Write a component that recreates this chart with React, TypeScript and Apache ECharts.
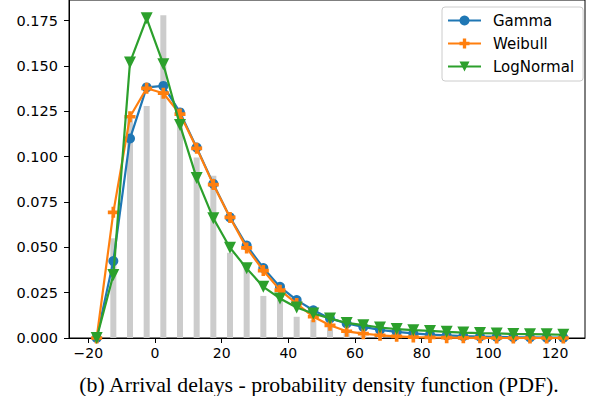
import React, { useEffect, useRef } from "react";
import * as echarts from "echarts";

const binCenters = [
  -17.5, -12.5, -7.5, -2.5, 2.5, 7.5, 12.5, 17.5, 22.5, 27.5, 32.5, 37.5, 42.5, 47.5, 52.5,
  57.5, 62.5, 67.5, 72.5, 77.5, 82.5, 87.5, 92.5, 97.5, 102.5, 107.5, 112.5, 117.5, 122.5,
];
const histValues = [
  0, 0.055, 0.121, 0.128, 0.178, 0.118, 0.0995, 0.0895, 0.047, 0.041, 0.0232, 0.021, 0.0117, 0.01,
  0.0065, 0.0028, 0.0012, 0.0006, 0.0004, 0.0002, 0.0001, 0.0001, 0, 0, 0, 0, 0, 0, 0,
];
const gammaValues = [
  0, 0.0424, 0.11, 0.1382, 0.139, 0.1244, 0.105, 0.085, 0.0665, 0.051, 0.0386, 0.0282, 0.0209,
  0.0153, 0.0108, 0.008, 0.0061, 0.0045, 0.0034, 0.0025, 0.0019, 0.0014, 0.001, 0.0008, 0.0006,
  0.0004, 0.0003, 0.0002, 0.0002,
];
const weibullValues = [
  0, 0.0693, 0.122, 0.1377, 0.135, 0.1235, 0.1046, 0.0846, 0.0665, 0.0497, 0.0372, 0.0264, 0.019,
  0.0117, 0.007, 0.0037, 0.0024, 0.0015, 0.0009, 0.0005, 0.0003, 0.0002, 0.0001, 0.0001, 0, 0, 0,
  0, 0,
];
const logNormalValues = [
  0, 0.0347, 0.152, 0.1763, 0.151, 0.1174, 0.0882, 0.066, 0.0498, 0.0384, 0.0282, 0.0218, 0.0168,
  0.0135, 0.0108, 0.0083, 0.0071, 0.0058, 0.0049, 0.0043, 0.0039, 0.0034, 0.003, 0.0027, 0.0025,
  0.0022, 0.0021, 0.002, 0.0018,
];
const xTicks = [-20, 0, 20, 40, 60, 80, 100, 120];
const yTicks = [0, 0.025, 0.05, 0.075, 0.1, 0.125, 0.15, 0.175];
const seriesNames = ["Gamma", "Weibull", "LogNormal"];
const seriesColors = ["#1f77b4", "#ff7f0e", "#2ca02c"];
const caption = "(b) Arrival delays - probability density function (PDF).";

const PLUS = "path://M2,0L4,0L4,2L6,2L6,4L4,4L4,6L2,6L2,4L0,4L0,2L2,2Z";
const TRI_DOWN = "path://M0,0L2,0L1,2Z";

const SANS = "DejaVu Sans";

export default function App() {
  const ref = useRef<HTMLDivElement>(null);
  useEffect(() => {
    if (!ref.current) return;
    const chart = echarts.init(ref.current, undefined, { renderer: "svg" });
    const pairs = (vals: number[]) => binCenters.map((c, i) => [c, vals[i]]);
    const symbols = ["circle", PLUS, TRI_DOWN];
    const sizes = [10, 11, 12];
    const valueSets = [gammaValues, weibullValues, logNormalValues];
    chart.setOption({
      animation: false,
      grid: {
        left: 69,
        right: 8,
        top: 0,
        bottom: 58,
        show: true,
        borderColor: "#000",
        borderWidth: 1,
        backgroundColor: "transparent",
      },
      xAxis: {
        type: "value",
        min: -25.8,
        max: 129,
        splitLine: { show: false },
        axisLine: { show: true, onZero: false, lineStyle: { color: "#000", width: 1 } },
        axisTick: { show: true, length: 5, customValues: xTicks, lineStyle: { color: "#000" } },
        axisLabel: {
          customValues: xTicks,
          formatter: (v: number) => (v < 0 ? "\u2212" + Math.abs(v) : String(v)),
          fontFamily: SANS,
          fontSize: 14,
          color: "#000",
          margin: 8,
        },
      },
      yAxis: {
        type: "value",
        min: 0,
        max: 0.1864,
        splitLine: { show: false },
        axisLine: { show: true, onZero: false, lineStyle: { color: "#000", width: 1 } },
        axisTick: { show: true, length: 5, customValues: yTicks, lineStyle: { color: "#000" } },
        axisLabel: {
          customValues: yTicks,
          formatter: (v: number) => v.toFixed(3),
          fontFamily: SANS,
          fontSize: 14.5,
          color: "#000",
          margin: 11,
        },
      },
      legend: {
        data: seriesNames,
        orient: "vertical",
        left: 442,
        top: 7,
        padding: [6, 9, 7, 5],
        itemWidth: 33,
        itemHeight: 12.5,
        itemGap: 8,
        borderColor: "#cccccc",
        borderWidth: 1,
        borderRadius: 3,
        backgroundColor: "rgba(255,255,255,0.8)",
        textStyle: {
          fontFamily: SANS,
          fontSize: 15,
          color: "#000",
          lineHeight: 15,
          padding: [0, 0, 0, 7],
        },
      },
      graphic: [
        {
          type: "text",
          x: 319,
          y: 385,
          style: {
            text: caption,
            fontFamily: "Liberation Serif",
            fontSize: 21.8,
            fill: "#000",
            textAlign: "center",
            textVerticalAlign: "middle",
          },
        },
      ],
      series: [
        {
          type: "bar",
          name: "hist",
          data: pairs(histValues),
          barWidth: 6,
          itemStyle: { color: "#cccccc" },
          silent: true,
          z: 1,
        },
        ...seriesNames.map((name, i) => ({
          type: "line",
          name,
          data: pairs(valueSets[i]),
          symbol: symbols[i],
          symbolSize: sizes[i],
          showAllSymbol: true,
          lineStyle: { color: seriesColors[i], width: 2.2 },
          itemStyle: { color: seriesColors[i] },
          z: 2 + i,
          clip: false,
        })),
      ],
    });
    return () => chart.dispose();
  }, []);
  return (
    <div
      ref={ref}
      style={{ position: "absolute", left: 0, top: 0, width: 593, height: 396, background: "#fff" }}
    />
  );
}
